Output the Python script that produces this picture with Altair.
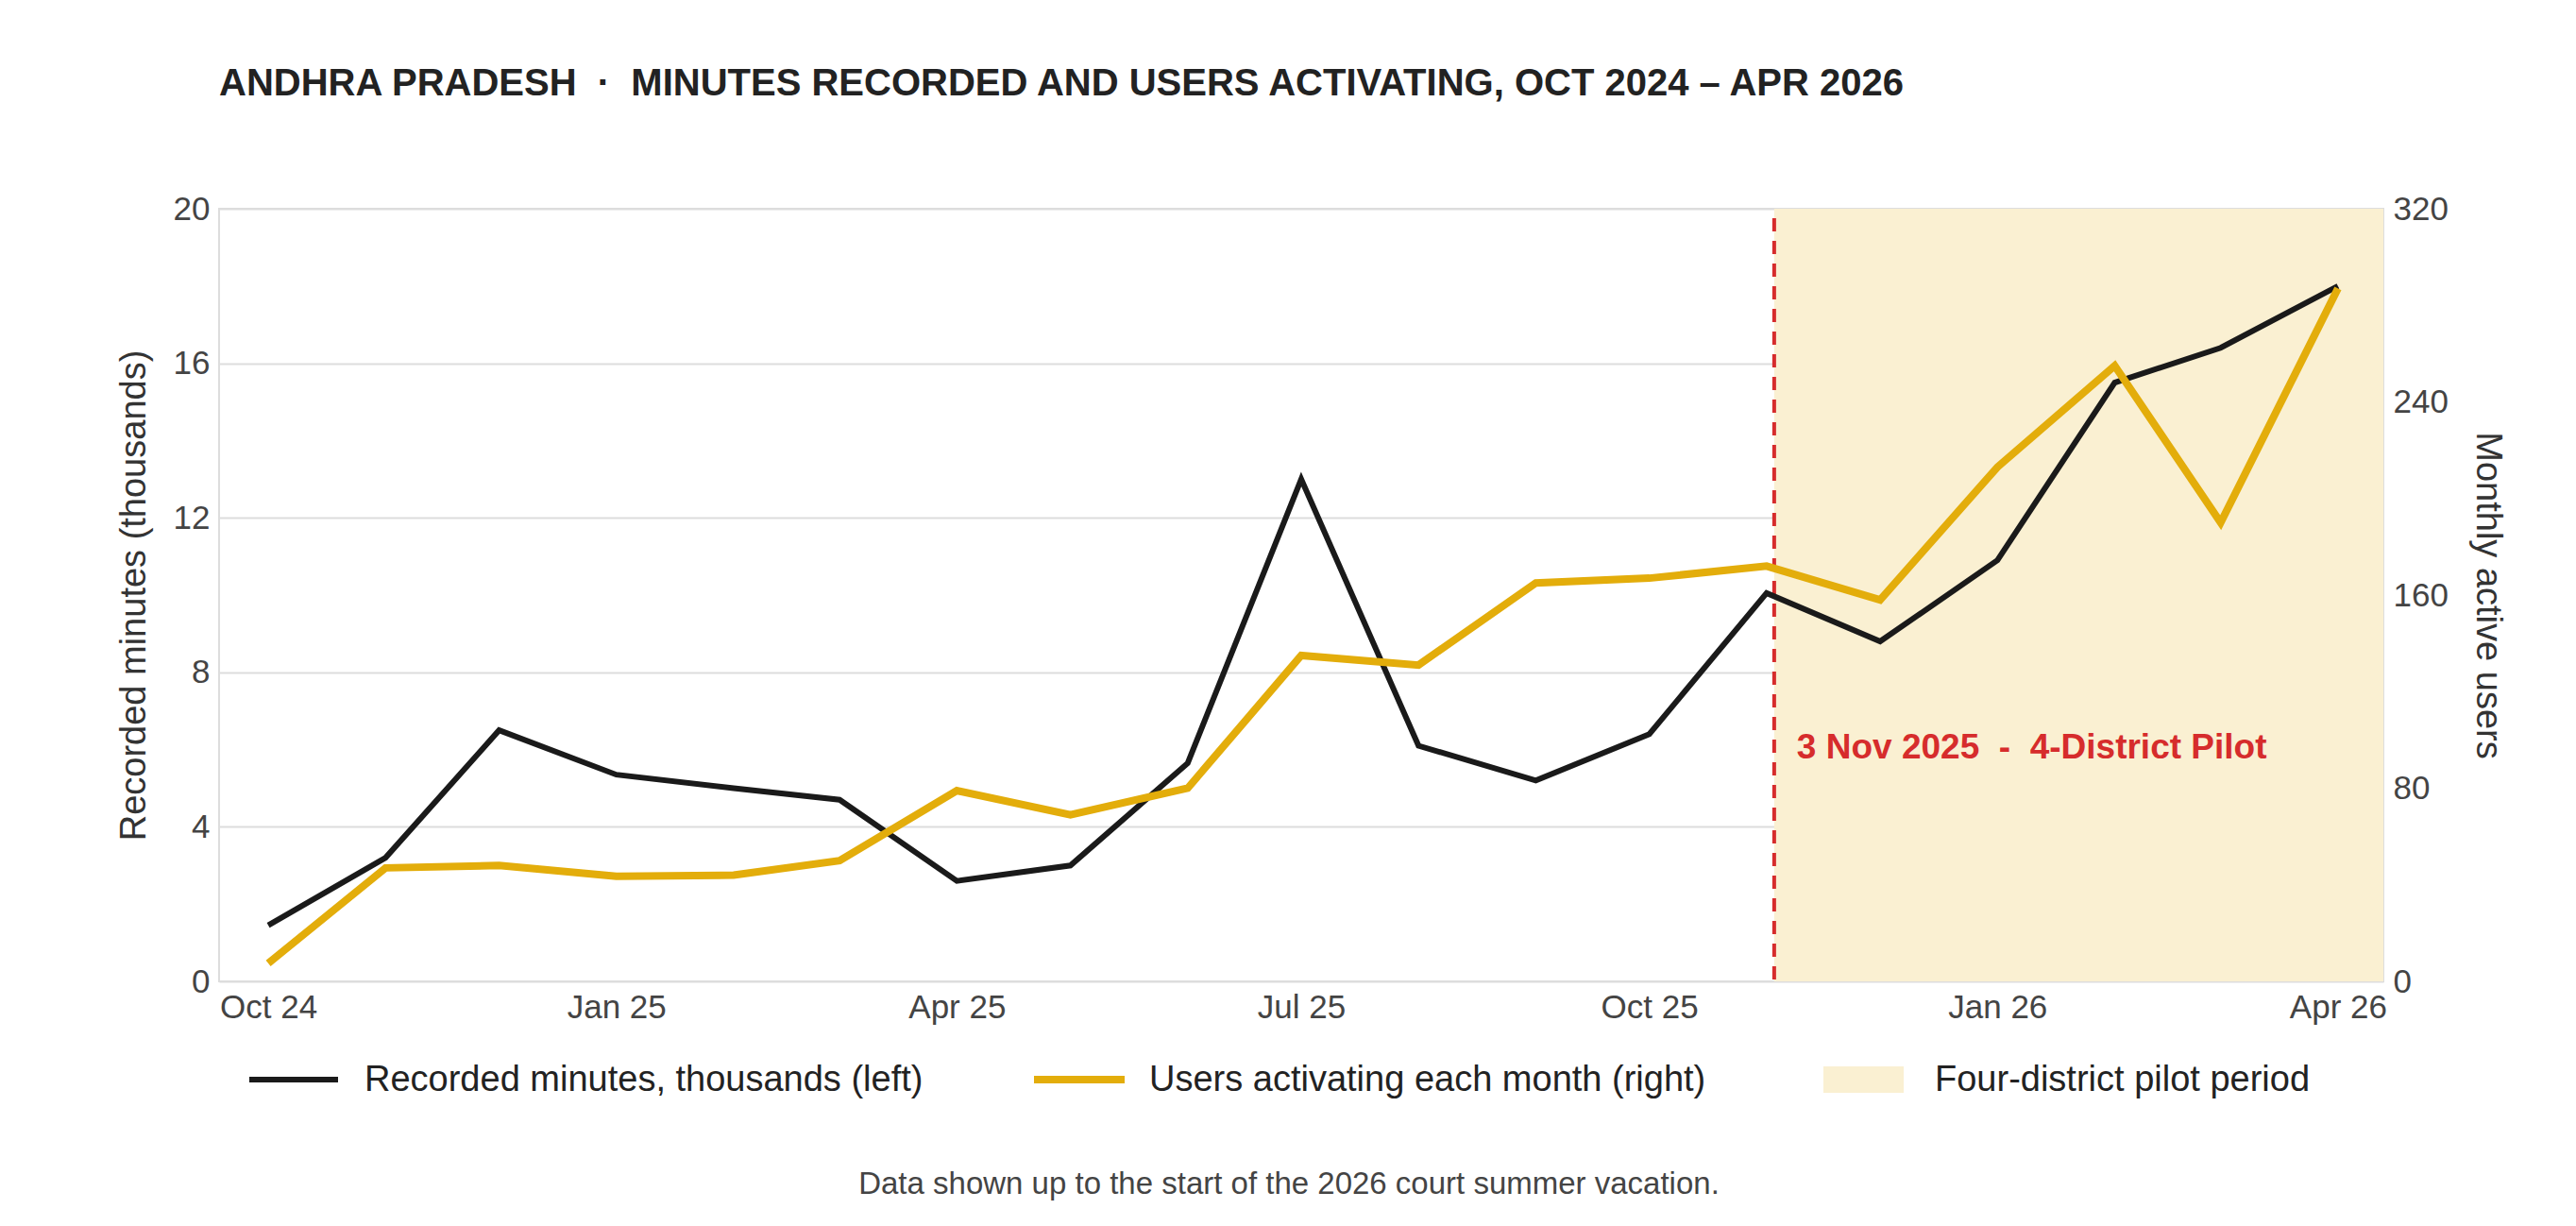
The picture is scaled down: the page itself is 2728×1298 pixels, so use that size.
import pandas as pd
import altair as alt

months = pd.date_range("2024-10-01", "2026-04-01", freq="MS")
minutes_k = [1.45, 3.2, 6.5, 5.35, 5.0, 4.7, 2.6, 3.0, 5.65, 13.0, 6.1, 5.2, 6.4,
             10.05, 8.8, 10.9, 15.5, 16.4, 18.0]
users = [7.5, 47, 48, 43.5, 44, 50, 79, 69, 80, 135, 131, 165, 167,
         172, 158, 213, 255, 190, 287]
pilot_start = "2025-11-03"
pilot_end = "2026-04-13"
tick_dates = ["2024-10-01", "2025-01-01", "2025-04-01", "2025-07-01",
              "2025-10-01", "2026-01-01", "2026-04-01"]

df = pd.DataFrame({"month": months, "minutes": minutes_k, "users": users})

W, H = 2292, 818
FONT = "Liberation Sans"
NB = "\u00a0"
x_dom = [pd.Timestamp("2024-09-18").isoformat(), pd.Timestamp(pilot_end).isoformat()]
xs = alt.Scale(domain=x_dom)
xenc = alt.X("month:T", scale=xs, axis=alt.Axis(
    values=[pd.Timestamp(d).isoformat() for d in tick_dates], format="%b %y",
    title=None, grid=False, labelFontSize=35, labelColor="#444", labelPadding=10,
    domain=False, ticks=False, labelFont=FONT))

band = pd.DataFrame({"start": [pd.Timestamp(pilot_start)], "end": [pd.Timestamp(pilot_end)]})
shade = alt.Chart(band).mark_rect(color="#faf0d2").encode(
    x=alt.X("start:T", scale=xs), x2="end:T", y=alt.value(0), y2=alt.value(H))
rule = alt.Chart(band).mark_rule(color="#d62c2c", strokeDash=[14, 10], strokeWidth=4).encode(
    x=alt.X("start:T", scale=xs), y=alt.value(10), y2=alt.value(H))
note = alt.Chart(band).mark_text(text=f"3 Nov 2025{NB} - {NB}4-District Pilot", color="#d62c2c",
                                 fontSize=37, fontWeight="bold", align="left", dx=24,
                                 font=FONT).encode(
    x=alt.X("start:T", scale=xs), y=alt.value(571))

left = alt.Chart(df).mark_line(color="#1a1a1a", strokeWidth=6).encode(
    x=xenc,
    y=alt.Y("minutes:Q", scale=alt.Scale(domain=[0, 20]), axis=alt.Axis(
        values=[0, 4, 8, 12, 16, 20], title="Recorded minutes (thousands)",
        titleFontSize=38, titleFontWeight="normal", titleColor="#333", titlePadding=22,
        labelFontSize=35, labelColor="#444", gridColor="#dddddd", gridWidth=2,
        domain=False, ticks=False, labelPadding=10, labelFont=FONT, titleFont=FONT)))
right = alt.Chart(df).mark_line(color="#e3ad0b", strokeWidth=8).encode(
    x=xenc,
    y=alt.Y("users:Q", scale=alt.Scale(domain=[0, 320]), axis=alt.Axis(
        orient="right", values=[0, 80, 160, 240, 320], title="Monthly active users",
        titleAngle=90, titleFontSize=38, titleFontWeight="normal", titleColor="#333",
        titlePadding=22, labelFontSize=35, labelColor="#444", grid=False,
        domain=False, ticks=False, labelPadding=10, labelFont=FONT, titleFont=FONT)))

# legend and footnote drawn below the plot
leg_lines = pd.DataFrame({"x": [32, 863], "x2": [126, 959], "c": ["#1a1a1a", "#e3ad0b"],
                          "w": [6, 8]})
leg_line = alt.Chart(leg_lines).mark_rule().encode(
    x=alt.X("x:Q", scale=None), x2="x2:Q", y=alt.value(H + 104),
    color=alt.Color("c:N", scale=None), strokeWidth=alt.StrokeWidth("w:Q", scale=None))
leg_box = alt.Chart(band).mark_rect(color="#faf0d2").encode(
    x=alt.value(1699), x2=alt.value(1784), y=alt.value(H + 90), y2=alt.value(H + 118))
leg_txt = pd.DataFrame({"x": [154, 985, 1817],
                        "t": ["Recorded minutes, thousands (left)",
                              "Users activating each month (right)",
                              "Four-district pilot period"]})
leg_text = alt.Chart(leg_txt).mark_text(fontSize=38, align="left", color="#222",
                                        font=FONT).encode(
    x=alt.X("x:Q", scale=None), y=alt.value(H + 105), text="t:N")
foot = alt.Chart(band).mark_text(text="Data shown up to the start of the 2026 court summer vacation.",
                                 fontSize=33, color="#444", font=FONT).encode(
    x=alt.value(1133), y=alt.value(H + 215))

chart = alt.layer(
    shade, rule, left, right, note, leg_line, leg_box, leg_text, foot
).resolve_scale(y="independent").properties(
    width=W, height=H, background="white",
    padding={"left": 115, "right": 20, "top": 61, "bottom": 30},
    title=alt.TitleParams(f"ANDHRA PRADESH{NB} · {NB}MINUTES RECORDED AND USERS ACTIVATING, OCT 2024 – APR 2026",
                          anchor="start", frame="group", fontSize=40, fontWeight="bold",
                          color="#222", font=FONT, offset=95)
).configure_view(stroke="#dddddd", strokeWidth=2)

chart.save("out.html", embed_options={"renderer": "svg", "actions": False})
